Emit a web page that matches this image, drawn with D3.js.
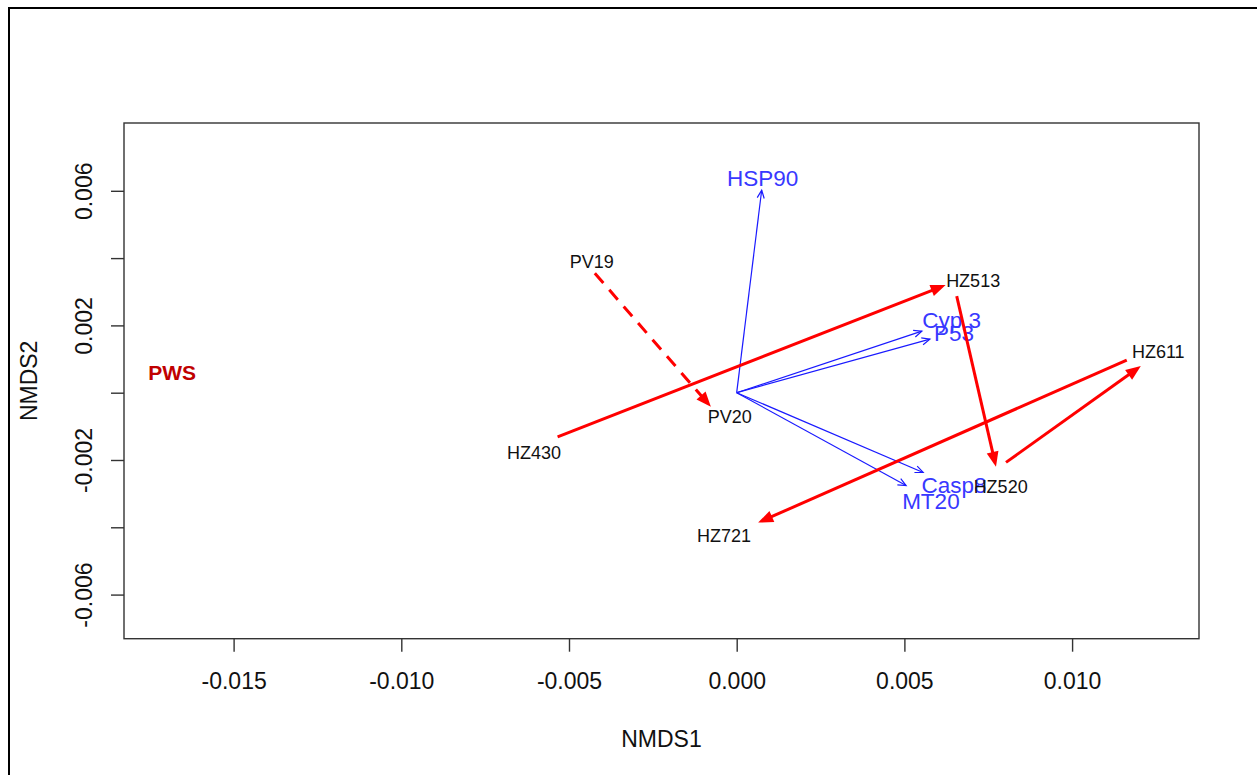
<!DOCTYPE html>
<html>
<head>
<meta charset="utf-8">
<script src="https://cdn.jsdelivr.net/npm/d3@7"></script>
<style>
  body { margin: 0; background: #fff; }
  svg { display: block; font-family: "Liberation Sans", Arial, sans-serif; }
</style>
</head>
<body>
<svg id="chart" width="1257" height="775"></svg>
<script>
"use strict";
// site scores (label positions), NMDS1 / NMDS2
var sites = ["HZ430", "HZ513", "HZ520", "HZ611", "HZ721", "PV19", "PV20"];
var siteX = [-0.00604, 0.00705, 0.00787, 0.01257, -0.00038, -0.00432, -0.00021];
var siteY = [-0.00177, 0.00333, -0.00279, 0.00122, -0.00423, 0.00389, -0.00071];

// trajectories between sites (red arrows)
var moveFrom = ["HZ430", "HZ513", "HZ520", "HZ611", "PV19"];
var moveTo = ["HZ513", "HZ520", "HZ611", "HZ721", "PV20"];
var moveX1 = [-0.00534, 0.00656, 0.00803, 0.01163, -0.00423];
var moveY1 = [-0.00131, 0.00287, -0.00207, 0.00097, 0.00355];
var moveX2 = [0.00623, 0.00773, 0.01205, 0.00064, -0.00077];
var moveY2 = [0.00320, -0.00220, 0.00079, -0.00386, -0.00042];
var moveDashed = [false, false, false, false, true];

// fitted variables (blue vectors)
var genes = ["HSP90", "Cyp 3", "P53", "Casp8", "MT20"];
var geneX = [0.000745, 0.00552, 0.00576, 0.00556, 0.00505];
var geneY = [0.00602, 0.00183, 0.00159, -0.00237, -0.00276];
var geneLabelX = [0.000775, 0.00641, 0.00648, 0.00648, 0.00579];
var geneLabelY = [0.00637, 0.00216, 0.00177, -0.00274, -0.00321];

// group annotation
var groupLabel = ["PWS"];
var groupX = [-0.01683];
var groupY = [0.00061];

// axes
var xTicks = [-0.015, -0.010, -0.005, 0.000, 0.005, 0.010];
var yTicks = [-0.006, -0.004, -0.002, 0.000, 0.002, 0.004, 0.006];
var yTickLabels = ["-0.006", "", "-0.002", "", "0.002", "", "0.006"];

var svg = d3.select("#chart");
var plotL = 124, plotR = 1199, plotT = 123, plotB = 638.7;

var x = d3.scaleLinear().domain([-0.018268, 0.013784]).range([plotL, plotR]);
var y = d3.scaleLinear().domain([-0.007311, 0.008015]).range([plotB, plotT]);

// outer frame (only top and left edges are inside the picture)
svg.append("path")
    .attr("d", "M9,775 L9,8 L1257,8")
    .attr("fill", "none")
    .attr("stroke", "#000")
    .attr("stroke-width", 2);

// plot box
svg.append("rect")
    .attr("x", plotL).attr("y", plotT)
    .attr("width", plotR - plotL).attr("height", plotB - plotT)
    .attr("fill", "none")
    .attr("stroke", "#333")
    .attr("stroke-width", 1.4);

var xAxis = svg.append("g")
    .attr("transform", "translate(0," + plotB + ")")
    .call(d3.axisBottom(x).tickValues(xTicks).tickSize(13)
        .tickFormat(function (d) { return d.toFixed(3); }));
xAxis.select(".domain").remove();
xAxis.selectAll("line").attr("stroke", "#333").attr("stroke-width", 1.4);
xAxis.selectAll("text")
    .attr("y", 50.6).attr("dy", 0)
    .attr("fill", "#111")
    .style("font-size", "23px")
    .style("font-family", "Liberation Sans, Arial, sans-serif");

var yAxis = svg.append("g")
    .attr("transform", "translate(" + plotL + ",0)")
    .call(d3.axisLeft(y).tickValues(yTicks).tickSize(13)
        .tickFormat(function (d, i) { return yTickLabels[i]; }));
yAxis.select(".domain").remove();
yAxis.selectAll("line").attr("stroke", "#333").attr("stroke-width", 1.4);
yAxis.selectAll("text")
    .attr("x", 0).attr("y", 0).attr("dy", 0)
    .attr("transform", "translate(-31.7,0) rotate(-90)")
    .attr("text-anchor", "middle")
    .attr("fill", "#111")
    .style("font-size", "23px")
    .style("font-family", "Liberation Sans, Arial, sans-serif");

// axis titles
svg.append("text")
    .attr("x", (plotL + plotR) / 2).attr("y", 747)
    .attr("text-anchor", "middle")
    .attr("fill", "#111")
    .style("font-size", "23px")
    .text("NMDS1");
svg.append("text")
    .attr("transform", "translate(37," + (plotT + plotB) / 2 + ") rotate(-90)")
    .attr("text-anchor", "middle")
    .attr("fill", "#111")
    .style("font-size", "23px")
    .text("NMDS2");

function appendArrow(onto, x1, y1, x2, y2, o) {
    var dx = x2 - x1, dy = y2 - y1;
    var len = Math.sqrt(dx * dx + dy * dy);
    var ux = dx / len, uy = dy / len;
    var bx = x2 - ux * o.head, by = y2 - uy * o.head;
    var nx = -uy * o.half, ny = ux * o.half;
    // shaft stops inside the head when the head is filled
    var ex = o.filled ? x2 - ux * o.head * 0.6 : x2;
    var ey = o.filled ? y2 - uy * o.head * 0.6 : y2;
    onto.append("line")
        .attr("x1", x1).attr("y1", y1)
        .attr("x2", ex).attr("y2", ey)
        .attr("stroke", o.color)
        .attr("stroke-width", o.width)
        .attr("stroke-dasharray", o.dash || null);
    if (o.filled) {
        onto.append("polygon")
            .attr("points", [[x2, y2], [bx + nx, by + ny], [bx - nx, by - ny]].join(" "))
            .attr("fill", o.color);
    } else {
        onto.append("polyline")
            .attr("points", [[bx + nx, by + ny], [x2, y2], [bx - nx, by - ny]].join(" "))
            .attr("fill", "none")
            .attr("stroke", o.color)
            .attr("stroke-width", o.width);
    }
}

// blue vectors from the origin
var vec = svg.append("g");
genes.forEach(function (g, i) {
    appendArrow(vec, x(0), y(0), x(geneX[i]), y(geneY[i]),
        { color: "#1a1aff", width: 1.2, head: 8, half: 3.5, filled: false });
});
vec.selectAll("text.gene")
    .data(genes)
    .enter().append("text")
    .attr("class", "gene")
    .attr("x", function (d, i) { return x(geneLabelX[i]); })
    .attr("y", function (d, i) { return y(geneLabelY[i]); })
    .attr("dy", "0.36em")
    .attr("text-anchor", "middle")
    .attr("fill", "#3838ff")
    .style("font-size", "22.5px")
    .text(function (d) { return d; });

// site labels
svg.selectAll("text.site")
    .data(sites)
    .enter().append("text")
    .attr("class", "site")
    .attr("x", function (d, i) { return x(siteX[i]); })
    .attr("y", function (d, i) { return y(siteY[i]); })
    .attr("dy", "0.36em")
    .attr("text-anchor", "middle")
    .attr("fill", "#111")
    .style("font-size", "18px")
    .text(function (d) { return d; });

// red trajectories
var moves = svg.append("g");
moveFrom.forEach(function (m, i) {
    appendArrow(moves, x(moveX1[i]), y(moveY1[i]), x(moveX2[i]), y(moveY2[i]),
        { color: "#ff0000", width: 3, head: 15, half: 6, filled: true,
          dash: moveDashed[i] ? "13,9" : null });
});

// group label
svg.selectAll("text.group")
    .data(groupLabel)
    .enter().append("text")
    .attr("class", "group")
    .attr("x", function (d, i) { return x(groupX[i]); })
    .attr("y", function (d, i) { return y(groupY[i]); })
    .attr("dy", "0.36em")
    .attr("text-anchor", "middle")
    .attr("fill", "#c00000")
    .style("font-size", "21px")
    .style("font-weight", "bold")
    .text(function (d) { return d; });
</script>
</body>
</html>
